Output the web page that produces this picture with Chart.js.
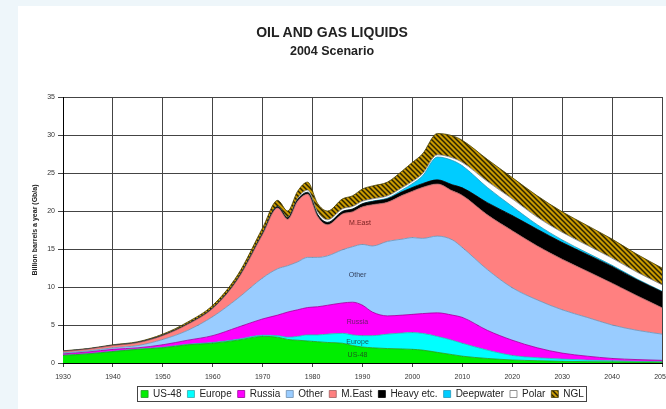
<!DOCTYPE html>
<html>
<head>
<meta charset="utf-8">
<script src="https://cdn.jsdelivr.net/npm/chart.js@4.4.1/dist/chart.umd.min.js"></script>
<style>
  html, body { margin: 0; padding: 0; width: 666px; height: 409px; overflow: hidden; background: #eef6fa; }
  #panel { position: absolute; left: 18px; top: 6px; width: 648px; height: 403px; background: #fff; overflow: hidden; }
  #c { position: absolute; left: 0; top: 0; }
  #title { position: absolute; left: 0; top: 17px; width: 628px; text-align: center;
           font-family: "Liberation Sans", Arial, sans-serif; font-weight: bold; color: #222; }
  #title .l1 { font-size: 14px; line-height: 19px; }
  #title .l2 { font-size: 12.5px; line-height: 19px; }
</style>
</head>
<body>
<div id="panel">
  <canvas id="c" width="648" height="403"></canvas>
  <div id="title"><div class="l1">OIL AND GAS LIQUIDS</div><div class="l2">2004 Scenario</div></div>
</div>
<script>
// -------------------- Data (Gb/a) --------------------
const years = [1930, 1935, 1940, 1945, 1950, 1955, 1960, 1965,
  1970, 1973, 1975, 1977, 1979, 1981, 1983, 1986, 1988,
  1990, 1992, 1995, 1998, 2000, 2002, 2005, 2008, 2010,
  2015, 2020, 2025, 2030, 2035, 2040, 2045, 2050];

const us48 = [1.0, 1.2, 1.5, 1.8, 2.0, 2.4, 2.6, 3.0,
  3.5, 3.4, 3.1, 3.0, 2.9, 2.8, 2.7, 2.6, 2.3,
  2.1, 2.0, 1.9, 1.85, 1.8, 1.7, 1.4, 1.1, 0.9,
  0.6, 0.4, 0.3, 0.22, 0.18, 0.15, 0.12, 0.1];

const europe = [0.02, 0.03, 0.05, 0.05, 0.07, 0.08, 0.1, 0.12,
  0.15, 0.2, 0.3, 0.5, 0.8, 0.9, 1.1, 1.3, 1.4,
  1.5, 1.6, 1.9, 2.1, 2.2, 2.2, 2.1, 1.9, 1.7,
  1.1, 0.6, 0.4, 0.3, 0.2, 0.15, 0.1, 0.08];

const russia = [0.18, 0.22, 0.25, 0.15, 0.33, 0.52, 0.9, 1.58,
  2.15, 2.7, 3.3, 3.5, 3.6, 3.7, 3.8, 4.0, 4.3,
  4.0, 3.1, 2.4, 2.35, 2.4, 2.6, 3.1, 3.3, 3.4,
  2.6, 2.0, 1.3, 0.78, 0.52, 0.3, 0.23, 0.17];

const other = [0.15, 0.15, 0.2, 0.3, 0.7, 1.3, 2.5, 3.8,
  5.4, 6.1, 6.1, 6.3, 6.6, 6.5, 6.5, 7.0, 7.3,
  8.0, 8.7, 9.8, 10.0, 10.1, 9.9, 10.1, 9.9, 9.2,
  8.0, 6.9, 6.3, 5.7, 5.1, 4.4, 3.85, 3.45];

const mEast = [0.18, 0.22, 0.29, 0.37, 0.5, 0.79, 1.07, 2.5,
  5.73, 7.99, 6.1, 7.98, 8.3, 5.38, 4.1, 4.72, 4.59,
  4.95, 5.43, 5.15, 5.77, 6.1, 6.7, 6.85, 6.45, 6.85,
  7.2, 7.5, 7.1, 6.65, 6.08, 5.5, 4.55, 3.47];

const heavy = [0.02, 0.02, 0.03, 0.03, 0.05, 0.06, 0.08, 0.1,
  0.15, 0.18, 0.2, 0.22, 0.25, 0.27, 0.3, 0.33, 0.36,
  0.4, 0.42, 0.45, 0.48, 0.5, 0.5, 0.55, 0.8, 1.0,
  1.6, 2.0, 2.2, 2.2, 2.2, 2.2, 2.1, 2.1];

const deepwater = [0, 0, 0, 0, 0, 0, 0, 0,
  0, 0, 0, 0, 0, 0, 0, 0, 0,
  0.02, 0.05, 0.1, 0.25, 0.5, 1.0, 3.0, 3.2, 2.9,
  2.0, 1.2, 0.6, 0.35, 0.22, 0.15, 0.1, 0.08];

const polar = [0, 0, 0, 0, 0, 0, 0, 0,
  0.02, 0.03, 0.05, 0.15, 0.3, 0.35, 0.35, 0.35, 0.35,
  0.33, 0.3, 0.3, 0.3, 0.3, 0.3, 0.3, 0.35, 0.45,
  0.8, 1.0, 1.0, 1.0, 1.0, 0.95, 0.9, 0.85];

const ngl = [0.05, 0.06, 0.08, 0.1, 0.15, 0.25, 0.35, 0.5,
  0.7, 0.8, 0.85, 0.95, 1.05, 1.1, 1.15, 1.3, 1.4,
  1.6, 1.7, 1.8, 2.2, 2.5, 2.6, 2.8, 2.9, 2.9,
  2.9, 2.8, 2.8, 2.7, 2.6, 2.5, 2.35, 2.2];

const seriesNames = ['US-48', 'Europe', 'Russia', 'Other', 'M.East', 'Heavy etc.', 'Deepwater', 'Polar', 'NGL'];

// axis settings
const xMin = 1930, xMax = 2050, xStep = 10;
const yMin = 0, yMax = 35, yStep = 5;

// labels written inside the areas
const areaLabels = ['M.East', 'Other', 'Russia', 'Europe', 'US-48'];
const areaLabelYears = [1989.5, 1989, 1989, 1989, 1989];
const areaLabelValues = [18.4, 11.6, 5.4, 2.7, 1.1];

// -------------------- Styles --------------------
const canvas = document.getElementById('c');
const mainCtx = canvas.getContext('2d');

// hatched olive fill for NGL
function makeHatch() {
  const p = document.createElement('canvas');
  p.width = 5; p.height = 5;
  const g = p.getContext('2d');
  g.fillStyle = '#c99a00';
  g.fillRect(0, 0, 5, 5);
  g.strokeStyle = '#2a2300';
  g.lineWidth = 1.5;
  g.beginPath();
  g.moveTo(-1, -1); g.lineTo(6, 6);
  g.moveTo(-1, 4); g.lineTo(1, 6);
  g.moveTo(4, -1); g.lineTo(6, 1);
  g.stroke();
  return mainCtx.createPattern(p, 'repeat');
}

const fills = ['#00ee00', '#00ffff', '#ff00ff', '#99ccff', '#ff8080', '#000000', '#00ccff', '#ffffff', makeHatch()];
const borders = ['#229922', '#33aaaa', '#990099', '#6f8fb0', '#a06060', '#000000', '#2299bb', '#777777', '#4a4000'];
const labelColors = ['#7a2222', '#33415e', '#6a1a6a', '#1d5a5a', '#1d5a1d'];

const seriesValues = [us48, europe, russia, other, mEast, heavy, deepwater, polar, ngl];

const datasets = seriesValues.map((vals, i) => ({
  label: seriesNames[i],
  data: years.map((yr, j) => ({ x: yr, y: vals[j] })),
  backgroundColor: fills[i],
  borderColor: borders[i],
  borderWidth: 0.8,
  pointRadius: 0,
  fill: i === 0 ? 'origin' : '-1',
  cubicInterpolationMode: 'monotone'
}));

// -------------------- Plugins --------------------
const areaLabelPlugin = {
  id: 'areaLabels',
  afterDatasetsDraw(chart) {
    const { ctx, scales: { x, y } } = chart;
    ctx.save();
    ctx.font = '7px "Liberation Sans", Arial, sans-serif';
    ctx.textAlign = 'center';
    ctx.textBaseline = 'middle';
    areaLabels.forEach((t, i) => {
      ctx.fillStyle = labelColors[i];
      ctx.fillText(t, x.getPixelForValue(areaLabelYears[i]), y.getPixelForValue(areaLabelValues[i]));
    });
    ctx.restore();
  }
};

const legendBoxPlugin = {
  id: 'legendBox',
  afterDraw(chart) {
    const boxes = chart.legend.legendHitBoxes;
    if (!boxes || !boxes.length) return;
    let l = Infinity, r = -Infinity, t = Infinity, b = -Infinity;
    boxes.forEach(h => {
      l = Math.min(l, h.left); r = Math.max(r, h.left + h.width);
      t = Math.min(t, h.top); b = Math.max(b, h.top + h.height);
    });
    const ctx = chart.ctx;
    ctx.save();
    ctx.strokeStyle = '#444';
    ctx.lineWidth = 1;
    ctx.strokeRect(Math.round(l) - 3.5, Math.round(t) - 2.5, Math.round(r - l) + 6, Math.round(b - t) + 5);
    ctx.restore();
  }
};

// -------------------- Chart --------------------
Chart.defaults.font.family = '"Liberation Sans", Arial, sans-serif';

new Chart(mainCtx, {
  type: 'line',
  data: { datasets },
  options: {
    responsive: false,
    animation: false,
    layout: { padding: { top: 91, right: 4, left: 0, bottom: 0 } },
    plugins: {
      title: { display: false },
      tooltip: { enabled: false },
      legend: {
        position: 'bottom',
        fullSize: false,
        labels: {
          boxWidth: 7,
          boxHeight: 7,
          padding: 6,
          color: '#222',
          font: { size: 10 }
        }
      }
    },
    scales: {
      x: {
        type: 'linear',
        min: xMin,
        max: xMax,
        ticks: {
          stepSize: xStep,
          autoSkip: false,
          maxRotation: 0,
          padding: 6,
          color: '#333',
          font: { size: 7 },
          callback: v => String(v)
        },
        grid: { color: '#444', lineWidth: 1, tickLength: 4 },
        border: { color: '#000' },
        afterFit(s) { s.paddingLeft = 0; s.paddingRight = 0; s.height = 20; }
      },
      y: {
        stacked: true,
        min: yMin,
        max: yMax,
        ticks: { stepSize: yStep, padding: 3, color: '#333', font: { size: 7 } },
        grid: { color: '#444', lineWidth: 1, tickLength: 5 },
        border: { color: '#000' },
        title: {
          display: true,
          text: 'Billion barrels a year (Gb/a)',
          color: '#222',
          font: { size: 7, weight: 'bold' },
          padding: { top: 13, bottom: 0 }
        },
        afterFit(s) { s.width = 45; s.paddingTop = 0; s.paddingBottom = 0; }
      }
    }
  },
  plugins: [areaLabelPlugin, legendBoxPlugin]
});
</script>
</body>
</html>
